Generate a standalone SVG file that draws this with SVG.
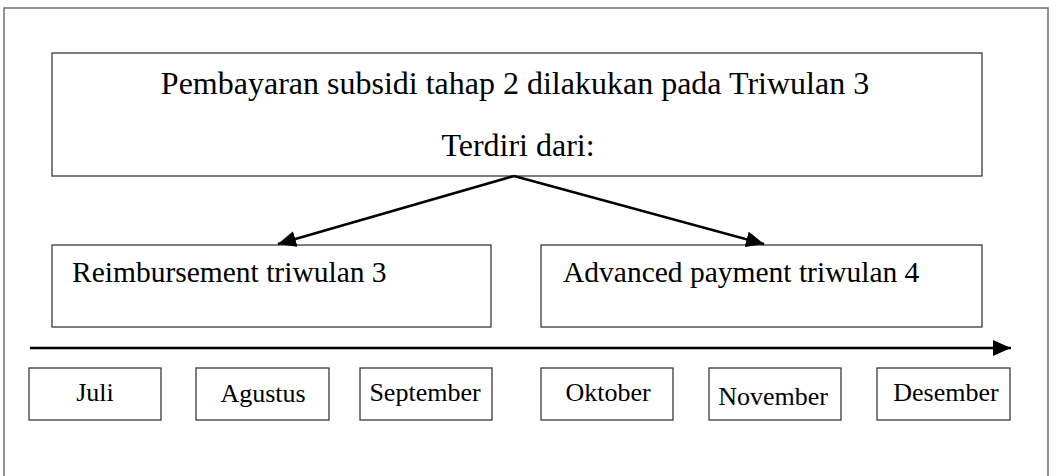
<svg xmlns="http://www.w3.org/2000/svg" width="1056" height="476" viewBox="0 0 1056 476">
  <style>
    .box { fill: #ffffff; stroke: #3a3a3a; stroke-width: 1.3; }
    .t { font-family: "Liberation Serif", "Times New Roman", serif; fill: #000; }
    .big { font-size: 32px; }
    .mid { font-size: 29.5px; }
    .sm { font-size: 26px; }
    .conn { stroke: #000; stroke-width: 2.5; fill: none; }
  </style>
  <defs>
    <marker id="ah" markerUnits="userSpaceOnUse" markerWidth="20" markerHeight="16" refX="18" refY="8" orient="auto">
      <path d="M0,0 L18,8 L0,16 Z" fill="#000"/>
    </marker>
  </defs>
  <rect width="1056" height="476" fill="#ffffff"/>
  <rect x="4" y="8" width="1044" height="480" fill="none" stroke="#6e6e6e" stroke-width="1.5"/>

  <g id="node-main">
    <rect class="box" x="52" y="53" width="930" height="123"/>
    <text class="t big" x="515" y="94" text-anchor="middle">Pembayaran subsidi tahap 2 dilakukan pada Triwulan 3</text>
    <text class="t big" x="518" y="156" text-anchor="middle">Terdiri dari:</text>
  </g>
  <g id="node-reimbursement">
    <rect class="box" x="52" y="245" width="439" height="82"/>
    <text class="t mid" x="72" y="282">Reimbursement triwulan 3</text>
  </g>
  <g id="node-advanced">
    <rect class="box" x="541" y="245" width="441" height="82"/>
    <text class="t mid" x="563" y="282">Advanced payment triwulan 4</text>
  </g>

  <g id="node-juli">
    <rect class="box" x="29" y="368" width="132" height="52"/>
    <text class="t sm" x="95" y="401" text-anchor="middle">Juli</text>
  </g>
  <g id="node-agustus">
    <rect class="box" x="196" y="368" width="133" height="52"/>
    <text class="t sm" x="263" y="402" text-anchor="middle">Agustus</text>
  </g>
  <g id="node-september">
    <rect class="box" x="360" y="368" width="132" height="52"/>
    <text class="t sm" x="425" y="401" text-anchor="middle">September</text>
  </g>
  <g id="node-oktober">
    <rect class="box" x="541" y="368" width="132" height="52"/>
    <text class="t sm" x="608" y="401" text-anchor="middle">Oktober</text>
  </g>
  <g id="node-november">
    <rect class="box" x="709" y="368" width="132" height="52"/>
    <text class="t sm" x="773" y="405" text-anchor="middle">November</text>
  </g>
  <g id="node-desember">
    <rect class="box" x="877" y="368" width="133" height="52"/>
    <text class="t sm" x="946" y="401" text-anchor="middle">Desember</text>
  </g>

  <g id="connectors">
    <line class="conn" x1="514" y1="176" x2="278" y2="244" marker-end="url(#ah)"/>
    <line class="conn" x1="514" y1="176" x2="764" y2="244" marker-end="url(#ah)"/>
    <line class="conn" x1="30" y1="348" x2="1011" y2="348" marker-end="url(#ah)"/>
  </g>
</svg>
